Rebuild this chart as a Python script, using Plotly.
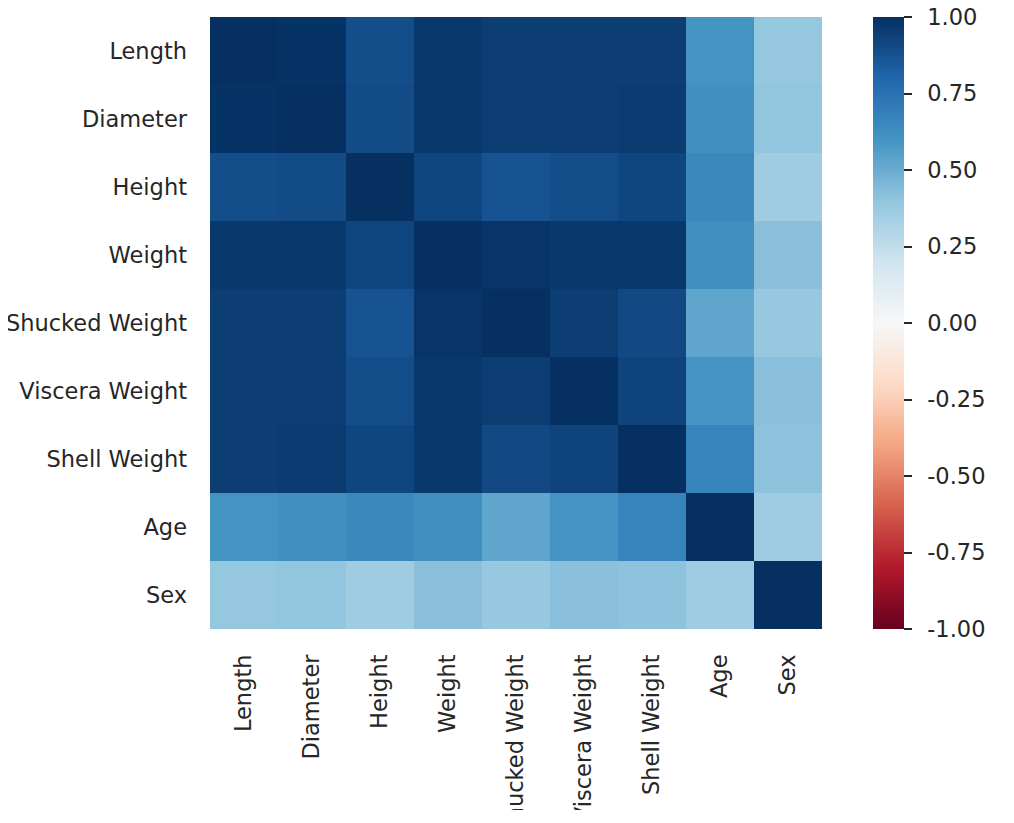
import plotly.graph_objects as go
import plotly.colors as pc

labels = ["Length", "Diameter", "Height", "Weight", "Shucked Weight",
          "Viscera Weight", "Shell Weight", "Age", "Sex"]

row_length   = [1.00, 0.99, 0.89, 0.97, 0.95, 0.95, 0.95, 0.60, 0.39]
row_diameter = [0.99, 1.00, 0.90, 0.97, 0.95, 0.95, 0.96, 0.62, 0.40]
row_height   = [0.89, 0.90, 1.00, 0.92, 0.87, 0.89, 0.92, 0.65, 0.355]
row_weight   = [0.97, 0.97, 0.92, 1.00, 0.98, 0.97, 0.97, 0.62, 0.42]
row_shucked  = [0.95, 0.95, 0.87, 0.98, 1.00, 0.95, 0.91, 0.53, 0.38]
row_viscera  = [0.95, 0.95, 0.89, 0.97, 0.95, 1.00, 0.93, 0.60, 0.42]
row_shell    = [0.95, 0.96, 0.92, 0.97, 0.91, 0.93, 1.00, 0.67, 0.41]
row_age      = [0.60, 0.62, 0.65, 0.62, 0.53, 0.60, 0.67, 1.00, 0.355]
row_sex      = [0.39, 0.40, 0.355, 0.42, 0.38, 0.42, 0.41, 0.355, 1.00]

cbar_vals = [-1.0, -0.75, -0.5, -0.25, 0.0, 0.25, 0.5, 0.75, 1.0]
cbar_text = ["-1.00", "-0.75", "-0.50", "-0.25", "0.00", "0.25", "0.50", "0.75", "1.00"]

z = [row_length, row_diameter, row_height, row_weight, row_shucked,
     row_viscera, row_shell, row_age, row_sex]

rdbu = pc.diverging.RdBu
n = len(rdbu)
colorscale = [[i / (n - 1), c] for i, c in enumerate(rdbu)]

TXT = "#262626"
FONT = "DejaVu Sans"
FS = 22.5

fig = go.Figure(go.Heatmap(
    z=z, x=labels, y=labels,
    zmin=-1, zmax=1,
    colorscale=colorscale,
    colorbar=dict(
        x=(873 - 210) / 612, xanchor="left", xpad=0,
        y=0, yanchor="bottom", ypad=0,
        len=1, lenmode="fraction",
        thickness=31, thicknessmode="pixels",
        outlinewidth=0,
        tickvals=cbar_vals, ticktext=["\u2002" + t for t in cbar_text],
        ticks="outside", ticklen=8, tickwidth=1.5, tickcolor=TXT,
        ticklabeloverflow="allow",
        tickfont=dict(family=FONT, size=FS, color=TXT),
    ),
    hoverongaps=False,
))

fig.update_layout(
    width=1014, height=802,
    margin=dict(l=202, r=200, t=9, b=181, autoexpand=False),
    paper_bgcolor="white", plot_bgcolor="white",
    font=dict(family=FONT, size=FS, color=TXT),
    xaxis=dict(tickangle=-90, showgrid=False, zeroline=False, showline=False,
               ticks="", automargin=False, ticklabelstandoff=20,
               ticklabeloverflow="allow",
               tickfont=dict(family=FONT, size=FS, color=TXT)),
    yaxis=dict(autorange="reversed", showgrid=False, zeroline=False, showline=False,
               ticks="", automargin=False, ticklabelstandoff=22,
               ticklabeloverflow="allow",
               tickfont=dict(family=FONT, size=FS, color=TXT)),
)

fig.write_html("out.html")
